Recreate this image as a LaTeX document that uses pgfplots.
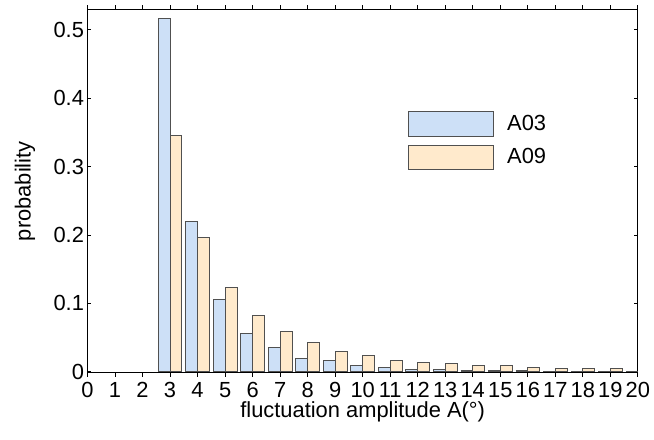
\documentclass[border=0pt]{standalone}
\usepackage{pgfplots}
\pgfplotsset{compat=1.18}
\usepackage{fontspec}
\setmainfont{Liberation Sans}
\definecolor{cA}{RGB}{205,224,247}
\definecolor{cB}{RGB}{255,234,204}
\definecolor{edge}{RGB}{80,80,80}
\pgfplotstableread{
x A03 A09
3 0.516 0.346
4 0.220 0.197
5 0.106 0.124
6 0.056 0.082
7 0.036 0.059
8 0.020 0.043
9 0.017 0.030
10 0.009 0.024
11 0.006 0.017
12 0.004 0.014
13 0.004 0.012
14 0.002 0.009
15 0.002 0.009
16 0.002 0.007
17 0.001 0.0045
18 0.001 0.0045
19 0.001 0.0045
20 0.001 0.001
}\datatable
\begin{document}
\begin{tikzpicture}
\path (-88pt,-67pt) rectangle (566pt,375pt);
\begin{axis}[
  scale only axis, width=553.5pt, height=365.5pt,
  xmin=0, xmax=20, ymin=-0.0015, ymax=0.5298,
  xtick={0,1,...,20}, ytick={0,0.1,0.2,0.3,0.4,0.5},
  tick align=inside, tick pos=both, major tick length=4pt,
  axis line style={line width=1pt, black},
  every tick/.style={black, line width=0.8pt},
  ticklabel style={font=\fontsize{22}{26}\selectfont},
  xticklabel style={yshift=-1.5pt, inner sep=4pt},
  /pgf/number format/assume math mode=true,
  label style={font=\fontsize{22}{26}\selectfont},
  xlabel={fluctuation amplitude A(°)},
  ylabel={probability},
  xlabel style={at={(axis description cs:0.5,-0.1231)}, anchor=base, inner sep=1pt},
  ylabel style={at={(axis description cs:-0.1138,0.5)}, anchor=center},
  ybar, bar width=0.43,
  legend style={at={(axis description cs:0.582,0.720)}, anchor=north west,
    draw=none, fill=none, inner sep=0pt, row sep=8pt, column sep=12pt,
    font=\fontsize{22}{26}\selectfont},
  legend cell align=left,
  legend image code/.code={\draw[#1] (0pt,-12.25pt) rectangle (85pt,12.25pt);},
]
\addplot[fill=cA, draw=edge, line width=0.8pt, bar shift=-0.215] table[x=x,y=A03] {\datatable};
\addplot[fill=cB, draw=edge, line width=0.8pt, bar shift=0.215] table[x=x,y=A09] {\datatable};
\legend{A03,A09}
\end{axis}
\end{tikzpicture}
\end{document}
